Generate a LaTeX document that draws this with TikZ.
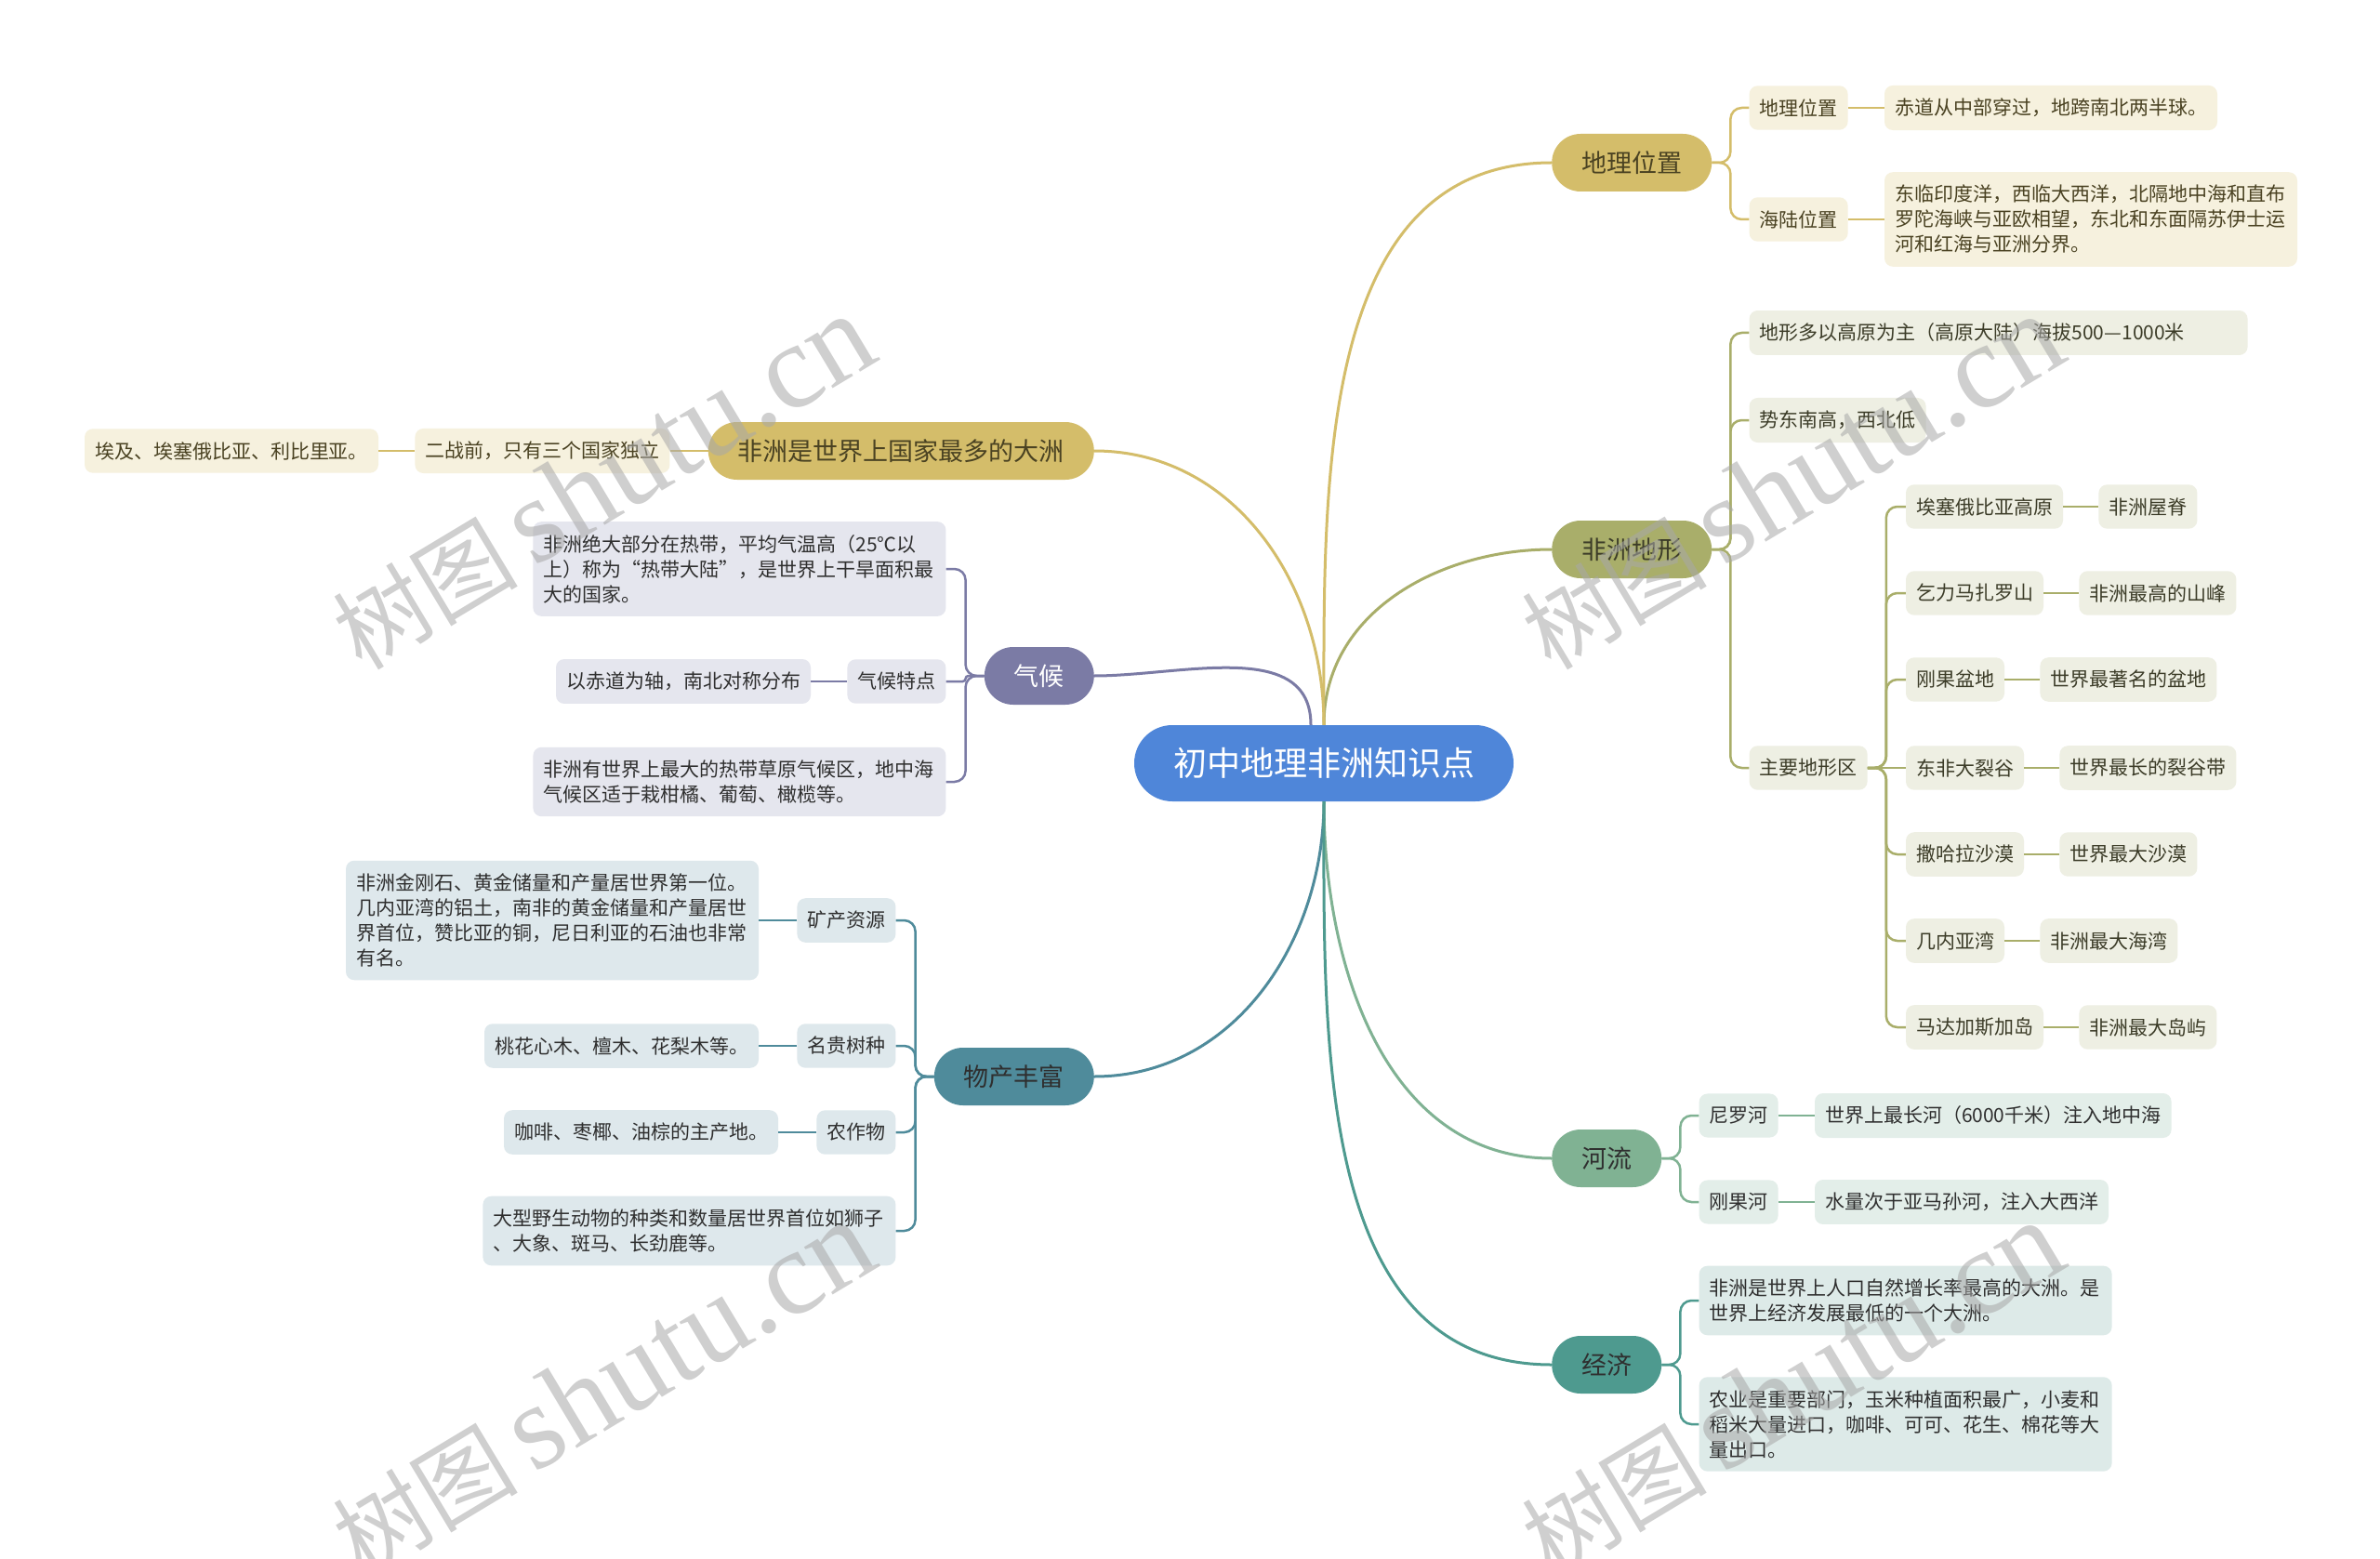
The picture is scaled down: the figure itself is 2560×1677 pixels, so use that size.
\documentclass[tikz,border=0pt]{standalone}
\usepackage{fontspec}
\setmainfont{Noto Sans CJK SC}
\newfontfamily\wmlatin{Liberation Serif}
\usetikzlibrary{positioning,calc}
\definecolor{rootc}{HTML}{4F86D9}
\definecolor{goldc}{HTML}{D4BD6A}
\definecolor{goldl}{HTML}{F6F1DE}
\definecolor{goldt}{HTML}{4A4222}
\definecolor{olivec}{HTML}{A9AE6A}
\definecolor{olivel}{HTML}{EEEFE3}
\definecolor{olivet}{HTML}{3C3C28}
\definecolor{purc}{HTML}{7B7BA5}
\definecolor{purl}{HTML}{E5E6EE}
\definecolor{sagec}{HTML}{80B293}
\definecolor{sagel}{HTML}{E3EEE9}
\definecolor{tealc}{HTML}{4E9A8F}
\definecolor{teall}{HTML}{DDEAE8}
\definecolor{bluec}{HTML}{4F8B9B}
\definecolor{bluel}{HTML}{DEE8EC}
\definecolor{darkt}{HTML}{2F2F2F}
\definecolor{wmgray}{HTML}{A8A8A8}
\tikzset{
  rootnode/.style={fill=rootc, text=white, rounded corners=41pt, minimum height=82pt, inner xsep=42pt, inner ysep=0pt, font=\fontsize{36}{40}\selectfont},
  mainnode/.style={rounded corners=31pt, minimum height=62pt, inner xsep=32pt, inner ysep=0pt, font=\fontsize{27}{30}\selectfont},
  subnode/.style={rounded corners=9pt, minimum height=46pt, inner xsep=11pt, inner ysep=14pt, font=\fontsize{21}{27}\selectfont},
  para/.style={subnode, text width=422pt, align=left},
  gsub/.style={fill=goldl, text=goldt},
  osub/.style={fill=olivel, text=olivet},
  psub/.style={fill=purl, text=darkt},
  ssub/.style={fill=sagel, text=darkt},
  tsub/.style={fill=teall, text=darkt},
  bsub/.style={fill=bluel, text=darkt},
  link/.style={line width=3pt},
  sublink/.style={line width=2.5pt, rounded corners=12pt},
  wmark/.style={rotate=31, text=wmgray, opacity=0.55}
}
\begin{document}
\begin{tikzpicture}[x=1pt,y=1pt]
\path[fill=white] (0,0) rectangle (2560,-1677);
\useasboundingbox (0,0) rectangle (2560,-1677);

% root
\node[rootnode] (root) at (1424,-821) {初中地理非洲知识点};

% ---------- 地理位置
\node[mainnode, fill=goldc, text=goldt, anchor=west] (dl) at (1669,-175) {地理位置};
\node[subnode, gsub, anchor=west] (dl1) at ($(dl.east |- 0,-116)+(40,0)$) {地理位置};
\node[subnode, gsub, right=39pt of dl1] (dl1a) {赤道从中部穿过，地跨南北两半球。};
\node[subnode, gsub, anchor=west] (dl2) at ($(dl.east |- 0,-236)+(40,0)$) {海陆位置};
\node[para, gsub, right=39pt of dl2] (dl2a) {东临印度洋，西临大西洋，北隔地中海和直布\\罗陀海峡与亚欧相望，东北和东面隔苏伊士运\\河和红海与亚洲分界。};

% ---------- 非洲地形
\node[mainnode, fill=olivec, text=olivet, anchor=west] (dx) at (1669,-591) {非洲地形};
\node[subnode, osub, text width=514pt, align=left, anchor=west] (dx1) at ($(dx.east |- 0,-358)+(40,0)$) {地形多以高原为主（高原大陆）海拔500—1000米};
\node[subnode, osub, anchor=west] (dx2) at ($(dx.east |- 0,-452)+(40,0)$) {势东南高，西北低};
\node[subnode, osub, anchor=west] (dx3) at ($(dx.east |- 0,-826)+(40,0)$) {主要地形区};
\node[subnode, osub, anchor=west] (t1) at ($(dx3.east |- 0,-545)+(41,0)$) {埃塞俄比亚高原};
\node[subnode, osub, right=38pt of t1] (t1a) {非洲屋脊};
\node[subnode, osub, anchor=west] (t2) at ($(dx3.east |- 0,-638)+(41,0)$) {乞力马扎罗山};
\node[subnode, osub, right=38pt of t2] (t2a) {非洲最高的山峰};
\node[subnode, osub, anchor=west] (t3) at ($(dx3.east |- 0,-731)+(41,0)$) {刚果盆地};
\node[subnode, osub, right=38pt of t3] (t3a) {世界最著名的盆地};
\node[subnode, osub, anchor=west] (t4) at ($(dx3.east |- 0,-826)+(41,0)$) {东非大裂谷};
\node[subnode, osub, right=38pt of t4] (t4a) {世界最长的裂谷带};
\node[subnode, osub, anchor=west] (t5) at ($(dx3.east |- 0,-919)+(41,0)$) {撒哈拉沙漠};
\node[subnode, osub, right=38pt of t5] (t5a) {世界最大沙漠};
\node[subnode, osub, anchor=west] (t6) at ($(dx3.east |- 0,-1012)+(41,0)$) {几内亚湾};
\node[subnode, osub, right=38pt of t6] (t6a) {非洲最大海湾};
\node[subnode, osub, anchor=west] (t7) at ($(dx3.east |- 0,-1105)+(41,0)$) {马达加斯加岛};
\node[subnode, osub, right=38pt of t7] (t7a) {非洲最大岛屿};

% ---------- 河流
\node[mainnode, fill=sagec, text=darkt, anchor=west] (hl) at (1669,-1246) {河流};
\node[subnode, ssub, anchor=west] (hl1) at ($(hl.east |- 0,-1200)+(40,0)$) {尼罗河};
\node[subnode, ssub, right=39pt of hl1] (hl1a) {世界上最长河（6000千米）注入地中海};
\node[subnode, ssub, anchor=west] (hl2) at ($(hl.east |- 0,-1293)+(40,0)$) {刚果河};
\node[subnode, ssub, right=39pt of hl2] (hl2a) {水量次于亚马孙河，注入大西洋};

% ---------- 经济
\node[mainnode, fill=tealc, text=darkt, anchor=west] (jj) at (1669,-1468) {经济};
\node[para, tsub, anchor=west] (jj1) at ($(jj.east |- 0,-1399)+(40,0)$) {非洲是世界上人口自然增长率最高的大洲。是\\世界上经济发展最低的一个大洲。};
\node[para, tsub, anchor=west] (jj2) at ($(jj.east |- 0,-1532)+(40,0)$) {农业是重要部门，玉米种植面积最广，小麦和\\稻米大量进口，咖啡、可可、花生、棉花等大\\量出口。};

% ---------- 非洲是世界上国家最多的大洲
\node[mainnode, fill=goldc, text=goldt, anchor=east] (gj) at (1177,-485) {非洲是世界上国家最多的大洲};
\node[subnode, gsub, anchor=east] (gj1) at ($(gj.west)+(-41,0)$) {二战前，只有三个国家独立};
\node[subnode, gsub, left=39pt of gj1] (gj1a) {埃及、埃塞俄比亚、利比里亚。};

% ---------- 气候
\node[mainnode, fill=purc, text=white, anchor=east] (qh) at (1177,-727) {气候};
\node[para, psub, anchor=east] (qh1) at ($(qh.west |- 0,-612)+(-41,0)$) {非洲绝大部分在热带，平均气温高（25℃以\\上）称为“热带大陆”，是世界上干旱面积最\\大的国家。};
\node[subnode, psub, anchor=east] (qh2) at ($(qh.west |- 0,-733)+(-41,0)$) {气候特点};
\node[subnode, psub, left=39pt of qh2] (qh2a) {以赤道为轴，南北对称分布};
\node[para, psub, anchor=east] (qh3) at ($(qh.west |- 0,-841)+(-41,0)$) {非洲有世界上最大的热带草原气候区，地中海\\气候区适于栽柑橘、葡萄、橄榄等。};

% ---------- 物产丰富
\node[mainnode, fill=bluec, text=darkt, anchor=east] (wc) at (1177,-1158) {物产丰富};
\node[subnode, bsub, anchor=east] (wc1) at ($(wc.west |- 0,-990)+(-41,0)$) {矿产资源};
\node[para, bsub, left=41pt of wc1] (wc1a) {非洲金刚石、黄金储量和产量居世界第一位。\\几内亚湾的铝土，南非的黄金储量和产量居世\\界首位，赞比亚的铜，尼日利亚的石油也非常\\有名。};
\node[subnode, bsub, anchor=east] (wc2) at ($(wc.west |- 0,-1125)+(-41,0)$) {名贵树种};
\node[subnode, bsub, left=41pt of wc2] (wc2a) {桃花心木、檀木、花梨木等。};
\node[subnode, bsub, anchor=east] (wc3) at ($(wc.west |- 0,-1218)+(-41,0)$) {农作物};
\node[subnode, bsub, left=41pt of wc3] (wc3a) {咖啡、枣椰、油棕的主产地。};
\node[para, bsub, anchor=east] (wc4) at ($(wc.west |- 0,-1324)+(-41,0)$) {大型野生动物的种类和数量居世界首位如狮子\\、大象、斑马、长劲鹿等。};

% ---------- root links
\draw[link, draw=goldc] (root.north) to[out=90,in=180] (dl.west);
\draw[link, draw=olivec] (root.north) to[out=90,in=180] (dx.west);
\draw[link, draw=goldc] (root.north) to[out=90,in=0] (gj.east);
\draw[link, draw=purc] ([xshift=-14pt]root.north) to[out=90,in=0] (qh.east);
\draw[link, draw=bluec] (root.south) to[out=-90,in=0] (wc.east);
\draw[link, draw=sagec] (root.south) to[out=-90,in=180] (hl.west);
\draw[link, draw=tealc] (root.south) to[out=-90,in=180] (jj.west);

% ---------- branch links (right)
\draw[sublink, draw=goldc] (dl.east) -- ++(20,0) |- (dl1.west);
\draw[sublink, draw=goldc] (dl.east) -- ++(20,0) |- (dl2.west);
\draw[sublink, draw=goldc] (dl1.east) -- (dl1a.west);
\draw[sublink, draw=goldc] (dl2.east) -- (dl2a.west);

\draw[sublink, draw=olivec] (dx.east) -- ++(20,0) |- (dx1.west);
\draw[sublink, draw=olivec] (dx.east) -- ++(20,0) |- (dx2.west);
\draw[sublink, draw=olivec] (dx.east) -- ++(20,0) |- (dx3.west);
\foreach \k in {1,2,3,5,6,7}{
  \draw[sublink, draw=olivec] (dx3.east) -- ++(20,0) |- (t\k.west);
}
\draw[sublink, draw=olivec] (dx3.east) -- (t4.west);
\foreach \k in {1,...,7}{
  \draw[sublink, draw=olivec] (t\k.east) -- (t\k a.west);
}

\draw[sublink, draw=sagec] (hl.east) -- ++(20,0) |- (hl1.west);
\draw[sublink, draw=sagec] (hl.east) -- ++(20,0) |- (hl2.west);
\draw[sublink, draw=sagec] (hl1.east) -- (hl1a.west);
\draw[sublink, draw=sagec] (hl2.east) -- (hl2a.west);

\draw[sublink, draw=tealc] (jj.east) -- ++(20,0) |- (jj1.west);
\draw[sublink, draw=tealc] (jj.east) -- ++(20,0) |- (jj2.west);

% ---------- branch links (left)
\draw[sublink, draw=goldc] (gj.west) -- (gj1.east);
\draw[sublink, draw=goldc] (gj1.west) -- (gj1a.east);

\draw[sublink, draw=purc] (qh.west) -- ++(-20,0) |- (qh1.east);
\draw[sublink, draw=purc, rounded corners=3pt] (qh.west) -- ++(-20,0) |- (qh2.east);
\draw[sublink, draw=purc] (qh.west) -- ++(-20,0) |- (qh3.east);
\draw[sublink, draw=purc] (qh2.west) -- (qh2a.east);

\draw[sublink, draw=bluec] (wc.west) -- ++(-20,0) |- (wc1.east);
\draw[sublink, draw=bluec] (wc.west) -- ++(-20,0) |- (wc2.east);
\draw[sublink, draw=bluec] (wc.west) -- ++(-20,0) |- (wc3.east);
\draw[sublink, draw=bluec] (wc.west) -- ++(-20,0) |- (wc4.east);
\draw[sublink, draw=bluec] (wc1.west) -- (wc1a.east);
\draw[sublink, draw=bluec] (wc2.west) -- (wc2a.east);
\draw[sublink, draw=bluec] (wc3.west) -- (wc3a.east);

% ---------- watermarks
\node[wmark] (wm1) at (648,-519) {\fontsize{100}{100}\selectfont 树图\,{\wmlatin\fontsize{130}{130}\selectfont shutu.cn}};
\node[wmark] (wm2) at (1927,-519) {\fontsize{100}{100}\selectfont 树图\,{\wmlatin\fontsize{130}{130}\selectfont shutu.cn}};
\node[wmark] (wm3) at (648,-1494) {\fontsize{100}{100}\selectfont 树图\,{\wmlatin\fontsize{130}{130}\selectfont shutu.cn}};
\node[wmark] (wm4) at (1927,-1494) {\fontsize{100}{100}\selectfont 树图\,{\wmlatin\fontsize{130}{130}\selectfont shutu.cn}};
\end{tikzpicture}
\end{document}
